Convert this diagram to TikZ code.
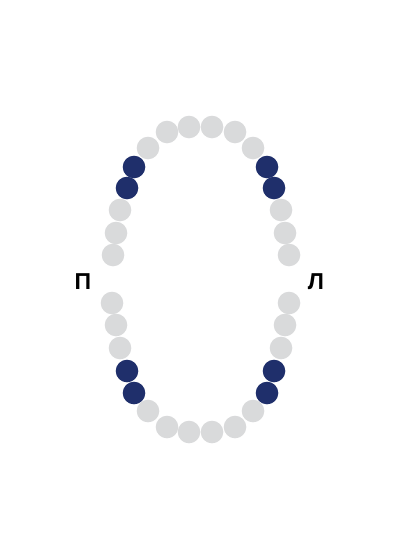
\documentclass[tikz,border=0pt]{standalone}
\usepackage{fontspec}
\setmainfont{Liberation Sans}
\definecolor{toothgray}{HTML}{D9DADB}
\definecolor{toothblue}{HTML}{1F2F6B}

\begin{document}
\begin{tikzpicture}[x=1pt, y=-1pt,
    tooth/.style={circle, fill=toothgray, inner sep=0pt, minimum size=22.6pt},
    marked/.style={tooth, fill=toothblue},
    side/.style={font=\fontsize{23}{23}\selectfont\bfseries}]
    \useasboundingbox (0,0) rectangle (400,560);

    % upper arch
    \foreach \i/\x/\y/\s in {1/113/255/tooth, 2/116/233/tooth, 3/120/210/tooth,
        4/127/188/marked, 5/134/167/marked, 6/148/148/tooth, 7/167/132/tooth,
        8/189/127/tooth, 9/212/127/tooth, 10/235/132/tooth, 11/253/148/tooth,
        12/267/167/marked, 13/274/188/marked, 14/281/210/tooth, 15/285/233/tooth,
        16/289/255/tooth}
        \node[\s] (u\i) at (\x,\y) {};

    % lower arch
    \foreach \i/\x/\y/\s in {1/112/303/tooth, 2/116/325/tooth, 3/120/348/tooth,
        4/127/371/marked, 5/134/393/marked, 6/148/411/tooth, 7/167/427/tooth,
        8/189/432/tooth, 9/212/432/tooth, 10/235/427/tooth, 11/253/411/tooth,
        12/267/393/marked, 13/274/371/marked, 14/281/348/tooth, 15/285/325/tooth,
        16/289/303/tooth}
        \node[\s] (l\i) at (\x,\y) {};

    \node[side] (P) at (83,282) {П};
    \node[side] (L) at (316,282) {Л};
\end{tikzpicture}
\end{document}
